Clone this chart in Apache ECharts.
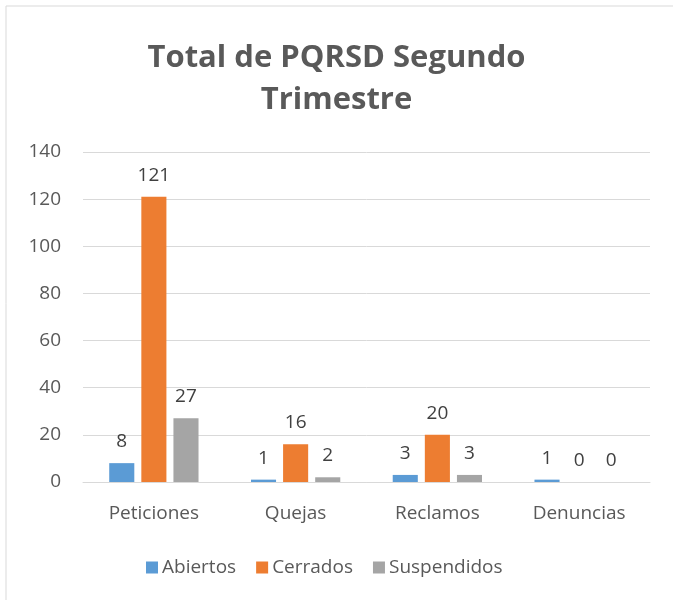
<!DOCTYPE html>
<html>
<head>
<meta charset="utf-8">
<script src="https://cdn.jsdelivr.net/npm/echarts@6/dist/echarts.min.js"></script>
<style>
  html, body { margin: 0; padding: 0; background: #fff; }
  #chart { width: 673px; height: 600px; }
</style>
</head>
<body>
<div id="chart"></div>
<script>
var categories = ['Peticiones', 'Quejas', 'Reclamos', 'Denuncias'];
var abiertos = [8, 1, 3, 1];
var cerrados = [121, 16, 20, 0];
var suspendidos = [27, 2, 3, 0];
var yTicks = [0, 20, 40, 60, 80, 100, 120, 140];

var font = '"Open Sans", "Liberation Sans", sans-serif';
var textGray = '#595959';

function barSeries(name, data, color) {
    return {
        name: name,
        type: 'bar',
        data: data,
        barGap: '28%',
        barCategoryGap: '37%',
        itemStyle: {color: color},
        label: {
            show: true,
            position: 'top',
            distance: 12,
            color: '#404040',
            fontSize: 19,
            fontFamily: font
        }
    };
}

var myChart = echarts.init(document.getElementById('chart'));
var option = {
    backgroundColor: '#fff',
    graphic: [{
        type: 'rect',
        shape: {x: 6, y: 6, width: 720, height: 720},
        style: {fill: 'none', stroke: '#d9d9d9', lineWidth: 1},
        silent: true,
        z: -1
    }],
    title: {
        text: 'Total de PQRSD Segundo\nTrimestre',
        left: 'center',
        top: 32,
        textStyle: {
            color: textGray,
            fontSize: 31,
            fontWeight: 'bold',
            fontFamily: font,
            lineHeight: 42
        }
    },
    legend: {
        top: 553,
        left: 141,
        itemWidth: 12,
        itemHeight: 12,
        itemGap: 20,
        icon: 'rect',
        textStyle: {color: textGray, fontSize: 19, fontFamily: font, padding: [0, 0, 0, -1]},
        data: ['Abiertos', 'Cerrados', 'Suspendidos']
    },
    grid: {
        left: 83,
        right: 23,
        top: 152,
        bottom: 118
    },
    xAxis: {
        type: 'category',
        data: categories,
        axisLine: {lineStyle: {color: '#d9d9d9', width: 1}},
        axisTick: {show: false},
        axisLabel: {color: textGray, fontSize: 19, fontFamily: font, margin: 22}
    },
    yAxis: {
        type: 'value',
        min: yTicks[0],
        max: yTicks[yTicks.length - 1],
        interval: 20,
        axisLine: {show: false},
        axisTick: {show: false},
        splitLine: {lineStyle: {color: '#d9d9d9', width: 1}},
        axisLabel: {color: textGray, fontSize: 19, fontFamily: font, margin: 22}
    },
    series: [
        barSeries('Abiertos', abiertos, '#5b9bd5'),
        barSeries('Cerrados', cerrados, '#ed7d31'),
        barSeries('Suspendidos', suspendidos, '#a5a5a5')
    ]
};
myChart.setOption(option);
</script>
</body>
</html>
